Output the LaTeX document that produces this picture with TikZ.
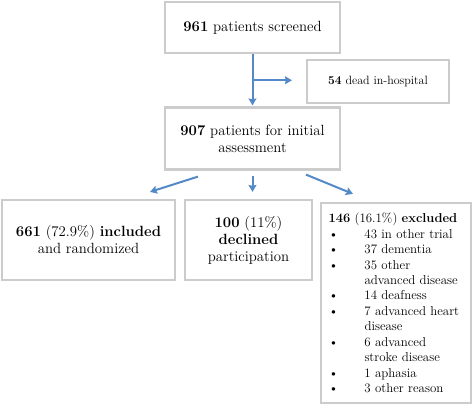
\documentclass[tikz,border=0pt]{standalone}
\usepackage{tikz}
\usetikzlibrary{arrows.meta,calc}
\definecolor{flowblue}{RGB}{84,137,200}

\begin{document}
\begin{tikzpicture}[x=1pt,y=-1pt,
  box/.style n args={2}{draw=gray!40,line width=2.2pt,rectangle,minimum width=#1pt,minimum height=#2pt,inner sep=2pt,align=center,font=\fontsize{14.8}{17}\selectfont},
  flow/.style={draw=flowblue,line width=2pt,-{Stealth[length=7pt,width=8pt,inset=1pt]}}]
\useasboundingbox (0,0) rectangle (473,405);
\node[box={175}{51}] (screen) at (252.5,27.5) {\textbf{961} patients screened};
\node[box={142}{43},font=\fontsize{12}{14}\selectfont] (dead) at (378,81.5) {\textbf{54} dead in-hospital};
\node[box={175}{62}] (assess) at (252.5,138.5) {\textbf{907} patients for initial\\ assessment};
\node[box={173}{80}] (incl) at (88.5,240) {\textbf{661} (72.9\%) \textbf{included}\\ and randomized};
\node[box={127}{80}] (decl) at (248.5,240) {\textbf{100} (11\%)\\ \textbf{declined}\\ participation};
\node[box={150}{200},align=left,text width=135pt,font=\fontsize{12.9}{15.45}\selectfont] (excl) at (396,303) {%
  \textbf{146} (16.1\%) \textbf{excluded}\\
  \makebox[36pt][l]{\textbullet}43 in other trial\\
  \makebox[36pt][l]{\textbullet}37 dementia\\
  \makebox[36pt][l]{\textbullet}35 other\\
  \hspace*{36pt}advanced disease\\
  \makebox[36pt][l]{\textbullet}14 deafness\\
  \makebox[36pt][l]{\textbullet}7 advanced heart\\
  \hspace*{36pt}disease\\
  \makebox[36pt][l]{\textbullet}6 advanced\\
  \hspace*{36pt}stroke disease\\
  \makebox[36pt][l]{\textbullet}1 aphasia\\
  \makebox[36pt][l]{\textbullet}3 other reason};
\coordinate (split) at ($(screen.south)!0.5!(assess.north)$);
\draw[flow,shorten >=1pt] (screen.south) -- (assess.north);
\draw[flow,shorten >=14pt] (split) -- (split -| dead.west);
\draw[flow] ([shift={(-54.5,6)}]assess.south) -- ([shift={(61.5,-7)}]incl.north);
\draw[flow] ([shift={(0,5)}]assess.south) -- ([shift={(0,-7)}]assess.south |- decl.north);
\draw[flow] ([shift={(53.5,4)}]assess.south) -- ([shift={(-43,-8)}]excl.north);
\end{tikzpicture}
\end{document}
